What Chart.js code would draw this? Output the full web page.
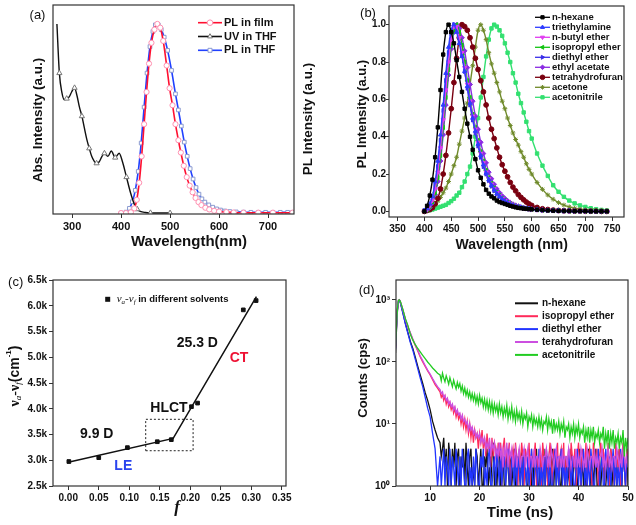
<!DOCTYPE html>
<html>
<head>
<meta charset="utf-8">
<script src="https://cdn.jsdelivr.net/npm/chart.js@4.4.1/dist/chart.umd.min.js"></script>
<style>
  html, body { margin: 0; padding: 0; background: #fff; overflow: hidden; }
  #wrap { position: relative; width: 636px; height: 525px; }
  canvas { position: absolute; left: 0; top: 0; }
</style>
</head>
<body>
<div id="wrap">
  <canvas id="ca" width="636" height="525"></canvas>
  <canvas id="cb" width="636" height="525"></canvas>
  <canvas id="cc" width="636" height="525"></canvas>
  <canvas id="cd" width="636" height="525"></canvas>
</div>
<script>
// ---- (a) absorption / emission ----
const uvWl = [269,274,279,284,289,294,299,305,310,315,320,325,330,335,340,345,350,355,361,366,373,380,388,396,403,411,419,427,433,439,450,460,470,485,500];
const uvAbs = [1.0,0.74,0.64,0.60,0.605,0.614,0.64,0.662,0.62,0.56,0.512,0.45,0.39,0.342,0.30,0.275,0.263,0.27,0.30,0.316,0.30,0.328,0.293,0.316,0.27,0.19,0.11,0.047,0.02,0.009,0.003,0.001,0,0,0];
const filmWl = [400,410,420,427,432,437,442,447,452,457,462,468,474,480,486,493,499,505,511,517,522,528,534,540,546,552,558,564,572,580,590,600,615,630,650,680,710,750];
const filmPl = [0,0,0.004,0.025,0.07,0.16,0.30,0.47,0.64,0.79,0.90,0.97,1.0,0.98,0.91,0.78,0.66,0.57,0.47,0.385,0.32,0.25,0.19,0.145,0.11,0.08,0.058,0.042,0.028,0.019,0.012,0.008,0.005,0.003,0.002,0.002,0.002,0.002];
const thfWl = [400,410,417,423,429,435,441,447,453,459,465,470,476,482,488,495,503,511,517,523,529,535,541,547,553,559,565,571,579,587,595,603,612,622,635,650,665,680,695,710,725,740,750];
const thfPl = [0,0.005,0.025,0.06,0.12,0.22,0.37,0.56,0.74,0.88,0.96,0.995,0.995,0.97,0.93,0.86,0.754,0.63,0.545,0.46,0.375,0.30,0.235,0.18,0.135,0.10,0.075,0.058,0.043,0.031,0.022,0.016,0.011,0.008,0.006,0.005,0.004,0.004,0.004,0.004,0.004,0.004,0.004];

// ---- (b) PL in solvents ----
const solvWl = [400,405,410,415,420,425,430,435,440,445,
  450,455,460,465,470,475,480,485,490,495,
  500,505,510,515,520,525,530,535,540,545,
  550,555,560,565,570,575,580,585,590,595,
  600,610,620,630,640,650,660,670,680,690,
  700,710,720,730,740];
const solvNames = ['n-hexane','triethylamine','n-butyl ether','isopropyl ether','diethyl ether','ethyl acetate','tetrahydrofuran','acetone','acetonitrile'];
const plHexane = [0,0.03,0.085,0.17,0.29,0.45,0.65,0.84,0.96,1.0,
  0.96,0.9,0.81,0.72,0.64,0.55,0.47,0.40,0.33,0.28,
  0.22,0.18,0.145,0.115,0.095,0.08,0.07,0.058,0.05,0.045,
  0.04,0.035,0.03,0.026,0.022,0.019,0.017,0.015,0.014,0.012,
  0.011,0.009,0.007,0.005,0.004,0.003,0.002,0.002,0.001,0.001,
  0.001,0,0,0,0];
const plTea = [0.005,0.015,0.04,0.08,0.16,0.27,0.41,0.57,0.74,0.88,
  0.97,1.0,0.96,0.9,0.83,0.75,0.67,0.58,0.50,0.43,
  0.36,0.30,0.25,0.205,0.17,0.14,0.115,0.095,0.08,0.066,
  0.055,0.046,0.038,0.032,0.027,0.023,0.02,0.017,0.015,0.013,
  0.011,0.008,0.006,0.005,0.004,0.003,0.002,0.002,0.001,0.001,
  0.001,0,0,0,0];
const plButyl = [0.003,0.01,0.03,0.06,0.12,0.21,0.34,0.49,0.65,0.80,
  0.92,0.99,0.99,0.93,0.85,0.77,0.68,0.59,0.51,0.44,
  0.37,0.31,0.26,0.21,0.175,0.145,0.12,0.1,0.083,0.069,
  0.057,0.047,0.039,0.033,0.028,0.023,0.02,0.017,0.015,0.013,
  0.011,0.008,0.006,0.005,0.004,0.003,0.002,0.002,0.001,0.001,
  0.001,0,0,0,0];
const plIso = [0.003,0.008,0.025,0.05,0.1,0.18,0.3,0.45,0.61,0.76,
  0.89,0.97,1.0,0.96,0.89,0.8,0.7,0.61,0.52,0.45,
  0.38,0.32,0.27,0.22,0.18,0.15,0.125,0.103,0.085,0.07,
  0.058,0.048,0.04,0.034,0.028,0.024,0.02,0.017,0.015,0.013,
  0.011,0.008,0.006,0.005,0.004,0.003,0.002,0.002,0.001,0.001,
  0.001,0,0,0,0];
const plDiethyl = [0.004,0.012,0.035,0.07,0.14,0.24,0.38,0.54,0.70,0.85,
  0.95,1.0,0.98,0.92,0.84,0.75,0.66,0.57,0.49,0.42,
  0.35,0.29,0.24,0.2,0.165,0.135,0.11,0.092,0.077,0.064,
  0.053,0.044,0.037,0.031,0.026,0.022,0.019,0.016,0.014,0.012,
  0.01,0.008,0.006,0.005,0.004,0.003,0.002,0.002,0.001,0.001,
  0.001,0,0,0,0];
const plEa = [0.002,0.008,0.02,0.045,0.09,0.16,0.27,0.41,0.57,0.73,
  0.87,0.96,1.0,0.98,0.93,0.86,0.77,0.68,0.59,0.51,
  0.44,0.37,0.31,0.26,0.21,0.175,0.145,0.12,0.1,0.083,
  0.069,0.057,0.047,0.039,0.033,0.028,0.024,0.02,0.017,0.015,
  0.013,0.01,0.008,0.006,0.005,0.004,0.003,0.002,0.002,0.001,
  0.001,0.001,0,0,0];
const plThf = [0,0.005,0.01,0.02,0.04,0.07,0.12,0.2,0.3,0.42,
  0.55,0.69,0.82,0.93,1.0,0.99,0.97,0.93,0.88,0.82,
  0.76,0.70,0.64,0.57,0.50,0.44,0.39,0.34,0.29,0.25,
  0.215,0.185,0.155,0.13,0.11,0.09,0.075,0.062,0.05,0.04,
  0.032,0.021,0.014,0.01,0.007,0.005,0.004,0.003,0.002,0.002,
  0.001,0.001,0.001,0,0];
const plAcetone = [0.005,0.01,0.018,0.028,0.04,0.055,0.075,0.1,0.125,0.16,
  0.2,0.245,0.29,0.36,0.43,0.5,0.58,0.68,0.78,0.88,
  0.97,1.0,0.97,0.92,0.85,0.79,0.74,0.69,0.64,0.59,
  0.55,0.5,0.46,0.42,0.385,0.355,0.32,0.29,0.255,0.225,
  0.2,0.155,0.118,0.088,0.065,0.047,0.034,0.024,0.017,0.012,
  0.009,0.006,0.004,0.003,0.002];
const plMeCN = [0,0.003,0.006,0.01,0.015,0.02,0.025,0.03,0.035,0.045,
  0.055,0.068,0.085,0.1,0.13,0.16,0.2,0.24,0.31,0.4,
  0.5,0.61,0.72,0.83,0.92,0.98,1.0,0.99,0.97,0.94,
  0.9,0.85,0.8,0.74,0.69,0.63,0.58,0.53,0.48,0.43,
  0.39,0.31,0.245,0.19,0.14,0.105,0.078,0.058,0.043,0.032,
  0.024,0.017,0.012,0.008,0.005];
const solvPl = [plHexane, plTea, plButyl, plIso, plDiethyl, plEa, plThf, plAcetone, plMeCN];

// ---- (c) Lippert-Mataga ----
const fPol = [0.001, 0.05, 0.097, 0.146, 0.169, 0.202, 0.212, 0.287, 0.308];
const stokes = [2975, 3050, 3245, 3360, 3400, 4040, 4110, 5920, 6100];
const fitF = [0.0, 0.172, 0.3085];
const fitV = [2960, 3425, 6176];
const boxF = [0.127, 0.2047, 0.2047, 0.127, 0.127];
const boxV = [3185, 3185, 3795, 3795, 3185];

// ---- (d) decay ----
const decayT = [3.0,3.2,3.4,3.6,3.8,4.0,4.5,5.0,5.5,6.0,
  6.5,7.0,7.5,8.0,8.5,9.0,9.5,10.0,10.5,11.0,11.5,
  12,12.25,12.5,12.75,13,13.25,13.5,13.75,14,14.25,14.5,14.75,15,15.25,15.5,15.75,
  16,16.25,16.5,16.75,17,17.25,17.5,17.75,18,18.25,18.5,18.75,19,19.25,19.5,19.75,
  20,20.25,20.5,20.75,21,21.25,21.5,21.75,22,22.25,22.5,22.75,23,23.25,23.5,23.75,
  24,24.25,24.5,24.75,25,25.25,25.5,25.75,26,26.25,26.5,26.75,27,27.25,27.5,27.75,
  28,28.25,28.5,28.75,29,29.25,29.5,29.75,30,30.25,30.5,30.75,31,31.25,31.5,31.75,
  32,32.25,32.5,32.75,33,33.25,33.5,33.75,34,34.25,34.5,34.75,35,35.25,35.5,35.75,
  36,36.25,36.5,36.75,37,37.25,37.5,37.75,38,38.25,38.5,38.75,39,39.25,39.5,39.75,
  40,40.25,40.5,40.75,41,41.25,41.5,41.75,42,42.25,42.5,42.75,43,43.25,43.5,43.75,
  44,44.25,44.5,44.75,45,45.25,45.5,45.75,46,46.25,46.5,46.75,47,47.25,47.5,47.75,
  48,48.25,48.5,48.75,49,49.25,49.5,49.75,
  50];
const decayNames = ['n-hexane','isopropyl ether','diethyl ether','terahydrofuran','acetonitrile'];
const cntHexane = [140,330,690,960,1000,900,620,420,300,215,
  165,120,85,62,45,32,24,17,11,8,6,
  5,3,4,6,2,4,1,5,3,1,4,2,5,1,3,4,
  1,3,2,4,1,5,2,1,3,4,1,2,1,4,3,1,
  2,4,1,1,3,2,4,1,2,1,3,5,1,2,1,3,
  4,1,2,3,1,1,4,2,1,3,1,2,4,1,1,3,
  2,1,4,1,3,2,1,1,4,2,1,3,1,2,4,1,
  1,3,2,1,4,1,2,3,1,1,2,4,1,3,1,2,
  3,1,1,4,2,1,3,1,2,1,4,1,2,3,1,1,
  2,4,1,3,1,2,1,1,4,2,1,3,1,2,4,1,
  1,3,1,2,4,1,1,2,3,1,4,1,2,1,3,1,
  2,4,1,1,3,2,1,4,
  1];
const cntIso = [170,380,720,980,1000,930,680,480,370,290,
  230,185,150,120,100,85,72,62,52,43,38,
  33,27,30,24,28,21,25,19,22,17,20,15,18,13,16,12,
  14,10,13,9,12,8,11,7,10,6,9,5,8,6,7,4,
  7,5,8,4,6,3,7,4,5,2,6,3,5,4,2,5,
  3,5,1,4,6,2,4,3,5,1,3,4,2,5,3,1,
  4,2,5,3,1,4,3,2,5,1,4,2,3,5,1,3,
  2,4,1,5,3,2,4,1,3,5,2,1,4,3,2,5,
  1,3,4,2,5,1,3,2,4,1,5,3,2,4,1,3,
  5,2,1,4,3,2,5,1,3,4,2,1,5,3,2,4,
  1,3,5,2,4,1,3,2,5,1,4,3,2,1,5,3,
  2,4,1,3,5,2,1,4,
  3];
const cntDiethyl = [160,360,700,970,990,890,610,410,290,205,
  155,110,78,55,40,27,18,13,7,4,1,
  3,1,2,4,1,3,2,1,4,1,3,2,1,4,2,1,
  3,1,4,2,1,1,3,4,1,2,1,3,1,4,2,1,
  1,3,2,4,1,2,1,3,4,1,1,2,3,1,4,2,
  1,4,1,2,3,1,2,4,1,1,3,2,1,4,1,3,
  2,1,3,1,4,2,1,3,1,2,4,1,1,3,2,1,
  4,1,2,1,3,1,4,2,1,3,1,1,2,4,1,3,
  1,2,4,1,3,1,2,1,4,2,1,3,1,1,2,4,
  1,3,1,2,4,1,2,1,3,1,4,2,1,1,3,2,
  4,1,2,3,1,1,4,2,1,3,1,2,4,1,3,1,
  2,1,4,1,3,2,1,3,
  2];
const cntThf = [175,390,730,985,1000,935,690,490,375,295,
  235,190,155,125,105,88,74,64,54,46,40,
  36,31,33,27,29,24,26,21,23,19,21,17,19,15,17,14,
  15,12,14,11,12,10,11,8,10,8,9,7,8,6,7,6,
  7,5,6,5,6,4,5,4,6,3,5,4,5,3,4,3,
  5,3,4,2,4,3,5,2,4,3,4,2,3,4,2,3,
  4,2,3,3,4,2,3,4,2,3,3,2,4,2,3,3,
  2,4,3,2,3,3,4,2,3,2,4,3,2,3,4,2,
  3,3,2,4,2,3,3,2,4,3,2,3,3,2,4,2,
  3,2,4,3,2,3,2,4,3,2,3,3,2,4,2,3,
  2,3,3,4,2,3,2,3,4,2,3,2,3,3,2,4,
  3,2,3,2,4,3,2,3,
  2];
const cntMeCN = [180,400,740,990,1000,940,700,500,390,280,
  225,190,165,145,128,113,100,90,80,73,66,
  62,50,66,55,48,60,52,44,56,47,40,51,43,37,47,39,
  45,34,41,31,38,29,35,27,33,25,31,24,30,22,28,21,
  29,22,26,19,25,18,24,17,23,16,22,15,21,16,20,14,
  21,15,19,13,18,14,20,12,17,13,19,12,16,11,17,12,
  15,11,16,10,14,12,15,9,13,11,14,9,13,10,12,9,
  13,9,12,8,11,10,13,8,12,9,11,7,12,8,10,8,
  11,7,10,8,11,6,9,8,10,6,9,7,10,6,9,7,
  10,6,8,7,9,5,8,6,9,5,8,6,9,5,7,6,
  8,5,7,6,9,4,7,5,8,4,7,5,8,4,6,5,
  7,4,6,5,8,3,6,4,
  6];
const decayCnt = [cntHexane, cntIso, cntDiethyl, cntThf, cntMeCN];

// ---- styles ----
const FONT = '"Liberation Sans", Arial, sans-serif';
const SERIF = '"Liberation Serif", "DejaVu Serif", serif';
const solvStyle = [
  { c: '#000000', s: 'rect', r: 0 },
  { c: '#2f3cff', s: 'triangle', r: 0 },
  { c: '#e03cf0', s: 'triangle', r: 180 },
  { c: '#12c412', s: 'triangle', r: -90 },
  { c: '#3a2ee8', s: 'triangle', r: 90 },
  { c: '#8a2be2', s: 'rectRot', r: 0 },
  { c: '#7a0010', s: 'circle', r: 0 },
  { c: '#6f8a2a', s: 'star', r: 0 },
  { c: '#33e070', s: 'rect', r: 0 }
];
const decayColor = ['#111111', '#ff2a5a', '#2235ff', '#cc4fe0', '#22cc22'];
const SUP = ['\u2070', '\u00b9', '\u00b2', '\u00b3'];

function pts(xs, ys) { return xs.map((x, i) => ({ x: x, y: ys[i] })); }

function put(ctx, s, x, y, f, color, align, rot) {
  ctx.save();
  ctx.translate(x, y);
  if (rot) ctx.rotate(rot);
  ctx.font = f;
  ctx.fillStyle = color || '#111';
  ctx.textAlign = align || 'center';
  ctx.textBaseline = 'middle';
  ctx.fillText(s, 0, 0);
  ctx.restore();
}

function rich(ctx, parts, x, y, rot, align) {
  ctx.save();
  ctx.translate(x, y);
  if (rot) ctx.rotate(rot);
  ctx.textBaseline = 'middle';
  ctx.textAlign = 'left';
  ctx.fillStyle = '#111';
  let w = 0;
  parts.forEach(p => { ctx.font = p.f; p.w = ctx.measureText(p.t).width; w += p.w; });
  let cx = align === 'left' ? 0 : -w / 2;
  parts.forEach(p => { ctx.font = p.f; ctx.fillText(p.t, cx, p.dy || 0); cx += p.w; });
  ctx.restore();
}

function frame(chart) {
  const a = chart.chartArea, ctx = chart.ctx;
  ctx.save();
  ctx.strokeStyle = '#333';
  ctx.lineWidth = 1.2;
  ctx.strokeRect(a.left, a.top, a.right - a.left, a.bottom - a.top);
  ctx.restore();
}

function marker(ctx, style, x, y, radius, fill, stroke) {
  ctx.save();
  ctx.fillStyle = fill;
  ctx.strokeStyle = stroke;
  ctx.lineWidth = 1;
  if (Chart.helpers && Chart.helpers.drawPoint) {
    Chart.helpers.drawPoint(ctx, { pointStyle: style.s, rotation: style.r, radius: radius, borderWidth: 1 }, x, y);
  } else {
    ctx.fillRect(x - radius, y - radius, radius * 2, radius * 2);
  }
  ctx.restore();
}

function lin(min, max, ticks, fmt, size, fsize, extra) {
  return Object.assign({
    type: 'linear', min: min, max: max,
    afterBuildTicks: s => { s.ticks = ticks.map(v => ({ value: v })); },
    afterFit: s => { if (s.isHorizontal()) s.height = size; else s.width = size; },
    grid: { drawOnChartArea: false, drawTicks: true, tickLength: 4, color: '#333', lineWidth: 1 },
    border: { display: false },
    ticks: { font: { family: FONT, size: fsize, weight: 'bold' }, color: '#111', padding: 2, callback: fmt }
  }, extra || {});
}

function base(padding) {
  return {
    responsive: false, animation: false, devicePixelRatio: 1, events: [],
    layout: { padding: padding },
    plugins: { legend: { display: false }, tooltip: { enabled: false } }
  };
}

// ---- chart (a) ----
const optA = base({ left: 0, top: 5, right: 342, bottom: 287 });
optA.scales = {
  x: lin(261, 753, [300, 400, 500, 600, 700], v => v, 24, 11),
  y: lin(-0.005, 1.1, [], v => '', 53, 11, { ticks: { display: false }, grid: { display: false } })
};
const legA = [
  { t: 'PL in film', line: '#ff1030', mk: { s: 'circle', r: 0 }, edge: '#ff8fb0' },
  { t: 'UV in THF', line: '#111111', mk: { s: 'triangle', r: 0 }, edge: '#777777' },
  { t: 'PL in THF', line: '#2040ff', mk: { s: 'rect', r: 0 }, edge: '#8a9ad0' }
];
new Chart(document.getElementById('ca'), {
  type: 'scatter',
  data: { datasets: [
    { data: pts(filmWl, filmPl), showLine: true, borderColor: '#ff1030', borderWidth: 1.6,
      pointStyle: 'circle', pointRadius: 2.6, pointBorderColor: '#ff8fb0', pointBackgroundColor: '#fff',
      pointBorderWidth: 1, cubicInterpolationMode: 'monotone' },
    { data: pts(uvWl, uvAbs), showLine: true, borderColor: '#111', borderWidth: 1.4,
      pointStyle: 'triangle', pointRadius: c => (c.dataIndex % 3 === 1 ? 3 : 0), pointBorderColor: '#777',
      pointBackgroundColor: '#fff', pointBorderWidth: 1, cubicInterpolationMode: 'monotone' },
    { data: pts(thfWl, thfPl), showLine: true, borderColor: '#2040ff', borderWidth: 1.6,
      pointStyle: 'rect', pointRadius: 2.6, pointBorderColor: '#8a9ad0', pointBackgroundColor: '#fff',
      pointBorderWidth: 1, cubicInterpolationMode: 'monotone' }
  ] },
  options: optA,
  plugins: [{ id: 'decoA', afterDraw: c => {
    const ctx = c.ctx;
    frame(c);
    put(ctx, '(a)', 37.5, 15, '13px ' + FONT);
    put(ctx, 'Wavelength(nm)', 189, 242, 'bold 15px ' + FONT);
    put(ctx, 'Abs. Intensity (a.u.)', 38, 120, 'bold 13.5px ' + FONT, '#111', 'center', -Math.PI / 2);
    put(ctx, 'PL Intensity (a.u.)', 308, 119, 'bold 13.5px ' + FONT, '#111', 'center', -Math.PI / 2);
    legA.forEach((l, i) => {
      const y = 22.7 + i * 13.8;
      ctx.save(); ctx.strokeStyle = l.line; ctx.lineWidth = 1.6;
      ctx.beginPath(); ctx.moveTo(198, y); ctx.lineTo(222, y); ctx.stroke(); ctx.restore();
      marker(ctx, l.mk, 210, y, 2.8, '#fff', l.edge);
      put(ctx, l.t, 224, y, 'bold 11px ' + FONT, '#111', 'left');
    });
  } }]
});

// ---- chart (b) ----
const optB = base({ left: 0, top: 2, right: 12, bottom: 284 });
optB.scales = {
  x: lin(334, 772, [350, 400, 450, 500, 550, 600, 650, 700, 750], v => v, 24, 10),
  y: lin(-0.03, 1.1, [0, 0.2, 0.4, 0.6, 0.8, 1.0], v => v.toFixed(1), 389, 10)
};
optB.scales.y.ticks.padding = 0;
optB.scales.y.grid = Object.assign({}, optB.scales.y.grid, { tickLength: 3 });
new Chart(document.getElementById('cb'), {
  type: 'scatter',
  data: { datasets: solvPl.map((ys, i) => ({
    data: pts(solvWl, ys), showLine: true, borderColor: solvStyle[i].c, borderWidth: 1.4,
    pointStyle: solvStyle[i].s, rotation: solvStyle[i].r, pointRadius: 2.4,
    pointBackgroundColor: solvStyle[i].c, pointBorderColor: solvStyle[i].c, pointBorderWidth: 1,
    cubicInterpolationMode: 'monotone'
  })) },
  options: optB,
  plugins: [{ id: 'decoB', afterDraw: c => {
    const ctx = c.ctx;
    frame(c);
    put(ctx, '(b)', 368, 13, '13px ' + FONT);
    put(ctx, 'PL Intensity (a.u.)', 362, 114, 'bold 13px ' + FONT, '#111', 'center', -Math.PI / 2);
    put(ctx, 'Wavelength (nm)', 511.7, 245, 'bold 14px ' + FONT);
    solvNames.forEach((n, i) => {
      const y = 17.3 + i * 10;
      const st = solvStyle[i];
      ctx.save(); ctx.strokeStyle = st.c; ctx.lineWidth = 1.3;
      ctx.beginPath(); ctx.moveTo(535, y); ctx.lineTo(550, y); ctx.stroke(); ctx.restore();
      marker(ctx, st, 542.5, y, 2.3, st.c, st.c);
      put(ctx, n, 552, y, 'bold 9.5px ' + FONT, '#111', 'left');
    });
  } }]
});

// ---- chart (c) ----
const optC = base({ left: 0, top: 280, right: 350, bottom: 15 });
optC.scales = {
  x: lin(-0.025, 0.357, [0, 0.05, 0.1, 0.15, 0.2, 0.25, 0.3, 0.35], v => v.toFixed(2), 24, 10),
  y: lin(2500, 6500, [2500, 3000, 3500, 4000, 4500, 5000, 5500, 6000, 6500], v => (v / 1000).toFixed(1) + 'k', 53, 10)
};
new Chart(document.getElementById('cc'), {
  type: 'scatter',
  data: { datasets: [
    { data: pts(fPol, stokes), pointStyle: 'rect', pointRadius: 2.6, pointBackgroundColor: '#111', pointBorderColor: '#111' },
    { data: pts(fitF, fitV), showLine: true, borderColor: '#111', borderWidth: 1.5, pointRadius: 0 },
    { data: pts(boxF, boxV), showLine: true, borderColor: '#222', borderWidth: 1, borderDash: [2, 2], pointRadius: 0 }
  ] },
  options: optC,
  plugins: [{ id: 'decoC', afterDraw: c => {
    const ctx = c.ctx;
    frame(c);
    put(ctx, '(c)', 15.7, 282, '13px ' + FONT);
    const big = 'bold 14px ' + SERIF, sub = 'italic 9px ' + SERIF;
    rich(ctx, [
      { t: '\u03bd', f: big }, { t: 'a', f: sub, dy: 4 },
      { t: '-\u03bd', f: big }, { t: 'f', f: sub, dy: 4 },
      { t: '(cm', f: 'bold 14px ' + FONT }, { t: '-1', f: 'bold 8px ' + FONT, dy: -6 },
      { t: ')', f: 'bold 14px ' + FONT }
    ], 15, 376, -Math.PI / 2);
    put(ctx, 'f', 177, 508, 'italic bold 17px ' + SERIF);
    put(ctx, '9.9 D', 96.7, 434.3, 'bold 14px ' + FONT);
    put(ctx, 'LE', 123.3, 466, 'bold 14px ' + FONT, '#2a44ee');
    put(ctx, 'HLCT', 169, 408.3, 'bold 14px ' + FONT);
    put(ctx, '25.3 D', 197.3, 342.7, 'bold 14px ' + FONT);
    put(ctx, 'CT', 239, 357.7, 'bold 14px ' + FONT, '#ee1133');
    ctx.fillStyle = '#111';
    ctx.fillRect(105.2, 296.8, 5, 5);
    rich(ctx, [
      { t: '\u03bd', f: 'italic 11px ' + SERIF }, { t: 'a', f: 'italic 7px ' + SERIF, dy: 3 },
      { t: '-\u03bd', f: 'italic 11px ' + SERIF }, { t: 'f', f: 'italic 7px ' + SERIF, dy: 3 },
      { t: ' in different solvents', f: 'bold 9.5px ' + FONT }
    ], 116.7, 299.3, 0, 'left');
  } }]
});

// ---- chart (d) ----
const optD = base({ left: 0, top: 280, right: 8, bottom: 15 });
optD.scales = {
  x: lin(3.1, 50, [10, 20, 30, 40, 50], v => v, 24, 10.5),
  y: {
    type: 'logarithmic', min: 1, max: 2100,
    afterBuildTicks: s => { s.ticks = [1, 10, 100, 1000].map(v => ({ value: v })); },
    afterFit: s => { s.width = 396; },
    grid: { drawOnChartArea: false, drawTicks: true, tickLength: 4, color: '#333' },
    border: { display: false },
    ticks: { font: { family: FONT, size: 10, weight: 'bold' }, color: '#111', padding: 2,
      callback: v => '10' + SUP[Math.round(Math.log10(v))] }
  }
};
new Chart(document.getElementById('cd'), {
  type: 'scatter',
  data: { datasets: decayCnt.map((ys, i) => ({
    data: pts(decayT, ys), showLine: true, borderColor: decayColor[i], borderWidth: 1.3,
    pointRadius: 0, order: 5 - i
  })) },
  options: optD,
  plugins: [{ id: 'decoD', afterDraw: c => {
    const ctx = c.ctx;
    frame(c);
    put(ctx, '(d)', 366.7, 290, '13px ' + FONT);
    put(ctx, 'Counts (cps)', 363, 378, 'bold 13px ' + FONT, '#111', 'center', -Math.PI / 2);
    put(ctx, 'Time (ns)', 520, 513, 'bold 15px ' + FONT);
    decayNames.forEach((n, i) => {
      const y = 303.3 + i * 12.9;
      ctx.save(); ctx.strokeStyle = decayColor[i]; ctx.lineWidth = 2;
      ctx.beginPath(); ctx.moveTo(515, y); ctx.lineTo(538, y); ctx.stroke(); ctx.restore();
      put(ctx, n, 542, y, 'bold 10px ' + FONT, '#111', 'left');
    });
  } }]
});
</script>
</body>
</html>
